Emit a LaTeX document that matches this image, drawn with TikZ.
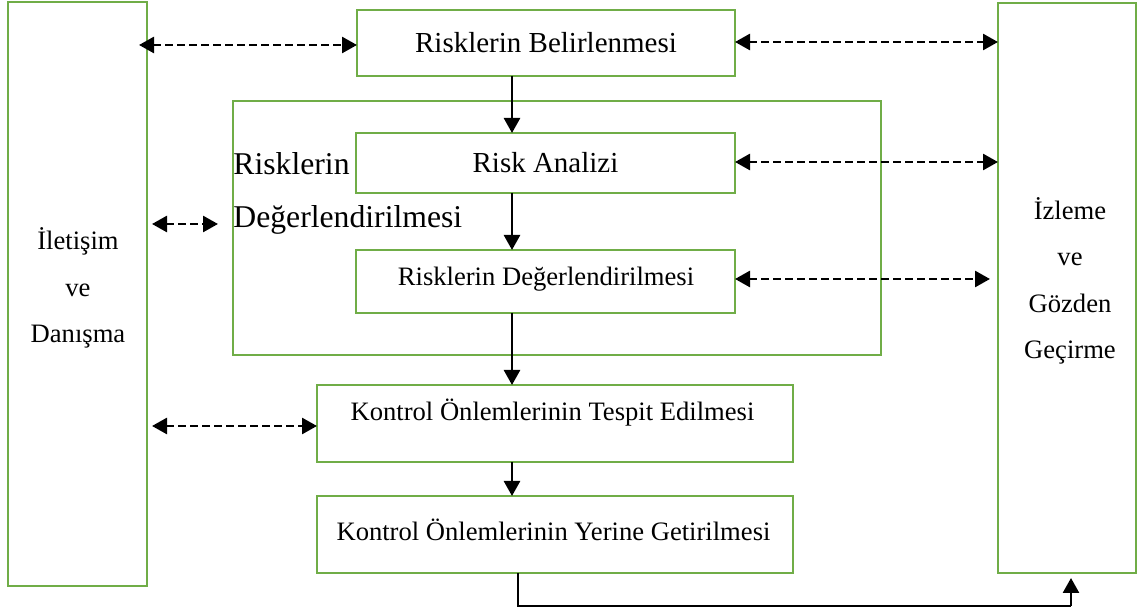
\documentclass[tikz,border=0pt]{standalone}
\usepackage{fontspec}
\setmainfont{Liberation Serif}
\usetikzlibrary{arrows.meta}
\definecolor{boxgreen}{HTML}{70AD47}
\begin{document}
\begin{tikzpicture}[x=0.5pt,y=-0.5pt,
  box/.style={draw=boxgreen,line width=1.4pt,rectangle,inner sep=0pt,outer sep=0pt},
  steptext/.style={font=\fontsize{14.5pt}{17pt}\selectfont},
  smalltext/.style={font=\fontsize{13.3pt}{16pt}\selectfont},
  sidetext/.style={align=center,inner sep=0pt,font=\fontsize{13.3pt}{23.2pt}\selectfont},
  flow/.style={line width=1.3pt,-{Triangle[length=7.5pt,width=8pt]}},
  dual/.style={line width=1.35pt,dash pattern=on 4pt off 2pt,
    {Triangle[length=7.5pt,width=8pt]}-{Triangle[length=7.5pt,width=8pt]}},
  link/.style={line width=0.75pt}]
\useasboundingbox (0,0) rectangle (1137,614);

% side boxes
\node[box,minimum width=69.5pt,minimum height=292pt] (L) at (77.5,294) {};
\node[sidetext] (Ltxt) at (78,288) {İletişim\\ve\\Danışma};
\node[box,minimum width=69pt,minimum height=285pt] (R) at (1067,288) {};
\node[sidetext] (Rtxt) at (1070,281) {İzleme\\ve\\Gözden\\Geçirme};

% risk assessment frame
\node[box,minimum width=324pt,minimum height=127pt] (BIG) at (557,228) {};
\node[anchor=west,align=left,inner sep=0pt,
  font=\fontsize{15.85pt}{26.5pt}\selectfont] (BIGtxt) at (233,193.5)
  {Risklerin\\Değerlendirilmesi};

% process steps
\node[box,steptext,minimum width=189pt,minimum height=33pt] (B1) at (546,43) {Risklerin Belirlenmesi};
\node[box,steptext,minimum width=189.5pt,minimum height=30pt] (RA) at (545.5,163) {Risk Analizi};
\node[box,smalltext,minimum width=189.5pt,minimum height=31.5pt] (RD) at (545.5,281.5) {};
\node[smalltext,inner sep=0pt] (RDtxt) at (546,279) {Risklerin Değerlendirilmesi};
\node[box,minimum width=238pt,minimum height=38.5pt] (KT) at (555,423.5) {};
\node[smalltext,inner sep=0pt] (KTtxt) at (552.5,413) {Kontrol Önlemlerinin Tespit Edilmesi};
\node[box,minimum width=238pt,minimum height=38.5pt] (KY) at (555,534.5) {};
\node[smalltext,inner sep=0pt] (KYtxt) at (553.5,530) {Kontrol Önlemlerinin Yerine Getirilmesi};

% main flow
\coordinate (axis) at (512,0);
\draw[flow] (B1.south -| axis) -- (RA.north -| axis);
\draw[flow] (RA.south -| axis) -- (RD.north -| axis);
\draw[flow] (RD.south -| axis) -- (KT.north -| axis);
\draw[flow] (KT.south -| axis) -- (KY.north -| axis);

% feedback to monitoring
\coordinate (drop) at (518,0);
\coordinate (foot) at (1071,606);
\draw[link] (KY.south -| drop) |- (foot);
\draw[flow] (foot) -- ([yshift=-2.5pt]R.south -| foot);

% communication and monitoring links
\coordinate (midrow) at (0,224);
\draw[dual] ([xshift=-4pt]L.east |- 0,45) -- (B1.west |- 0,45);
\draw[dual] (B1.east |- 0,42) -- (R.west |- 0,42);
\draw[dual] (RA.east |- 0,162) -- (R.west |- 0,162);
\draw[dual] (RD.east |- 0,279) -- ([xshift=-4pt]R.west |- 0,279);
\draw[dual] ([xshift=2.5pt]L.east |- midrow) -- ([xshift=-7.5pt]BIG.west |- midrow);
\draw[dual] ([xshift=2.5pt]L.east |- 0,426) -- (KT.west |- 0,426);
\end{tikzpicture}
\end{document}
